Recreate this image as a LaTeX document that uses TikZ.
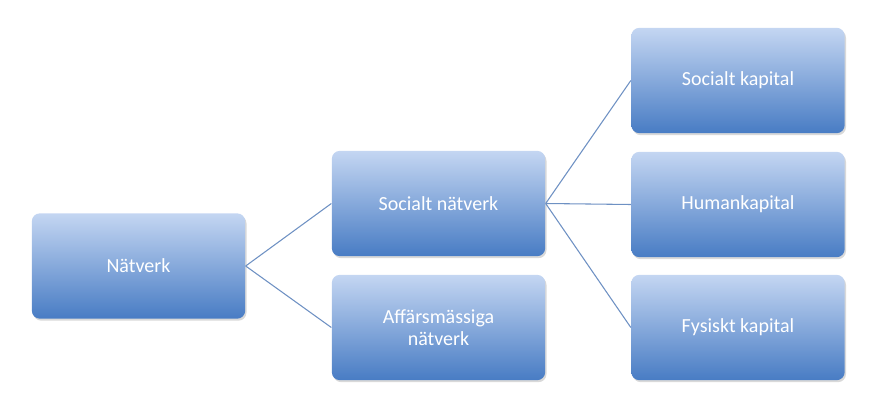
\documentclass[tikz,border=0pt]{standalone}
\usepackage{fontspec}
\setmainfont{Carlito}
\usetikzlibrary{shadows}
\definecolor{boxtop}{RGB}{196,214,242}
\definecolor{boxbottom}{RGB}{72,124,196}
\definecolor{linkcol}{RGB}{110,145,195}
\tikzset{every picture/.style={line width=0.75pt}}
\begin{document}
\begin{tikzpicture}[x=0.75pt,y=0.75pt,yscale=-1,xscale=1,
  box/.style={rounded corners=6pt,top color=boxtop,bottom color=boxbottom,
    minimum width=160pt,minimum height=79pt,text=white,align=center,
    font=\fontsize{15}{17}\selectfont,drop shadow={opacity=0.3,shadow xshift=1pt,shadow yshift=-1.5pt}},
  link/.style={draw=linkcol,line width=0.8pt}]
\useasboundingbox (0,0) rectangle (887,417);

% Text Node
\node [box] (natverk) at (138.5,266) {Nätverk};
% Text Node
\node [box] (socnat) at (438.5,203.5) {Socialt nätverk};
% Text Node
\node [box] (affars) at (438.5,327.5) {Affärsmässiga\\nätverk};
% Text Node
\node [box] (sockap) at (738,80.5) {Socialt kapital};
% Text Node
\node [box] (humkap) at (738,204.5) {Humankapital};
% Text Node
\node [box] (fyskap) at (738,327.5) {Fysiskt kapital};

%Straight Lines
\draw [link] (natverk.east) -- (socnat.west);
\draw [link] (natverk.east) -- (affars.west);
\draw [link] (socnat.east) -- (sockap.west);
\draw [link] (socnat.east) -- (humkap.west);
\draw [link] (socnat.east) -- (fyskap.west);
\end{tikzpicture}
\end{document}
